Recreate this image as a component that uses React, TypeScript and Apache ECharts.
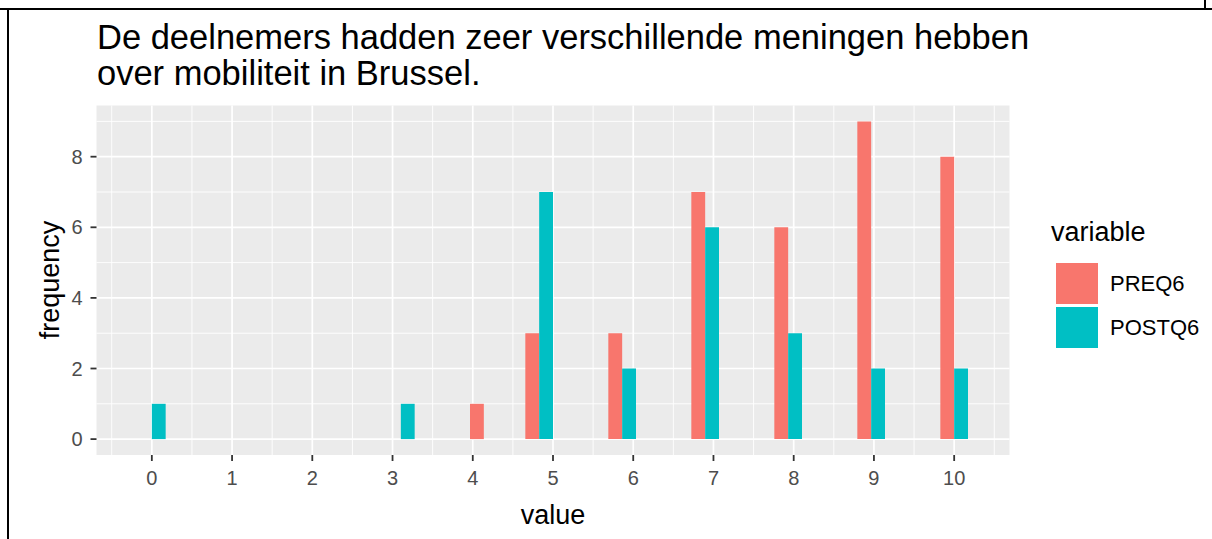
import React, { useEffect, useRef } from "react";
import * as echarts from "echarts";

// ---- data ----
const scoreValues = [0, 1, 2, 3, 4, 5, 6, 7, 8, 9, 10];
const preQ6Counts = [0, 0, 0, 0, 1, 3, 3, 7, 6, 9, 8];
const postQ6Counts = [1, 0, 0, 1, 0, 7, 2, 6, 3, 2, 2];
const seriesNames = ["PREQ6", "POSTQ6"];
const xTickValues = [0, 1, 2, 3, 4, 5, 6, 7, 8, 9, 10];
const yTickValues = [0, 2, 4, 6, 8];
const titleLines = ["De deelnemers hadden zeer verschillende meningen hebben", "over mobiliteit in Brussel."];
const xTitle = "value";
const yTitle = "frequency";
const legendTitle = "variable";

// ---- ggplot-like histogram binning (30 bins, right closed), dodged ----
const BINS = 30;
const dataMin = Math.min(...scoreValues);
const dataMax = Math.max(...scoreValues);
const binWidth = (dataMax - dataMin) / (BINS - 1);
const binCenter = (v: number) => dataMin + Math.ceil((v - dataMin) / binWidth - 0.5 - 1e-9) * binWidth;

function dodgedBars(counts: number[], group: number) {
  const out: number[][] = [];
  scoreValues.forEach((v, i) => {
    if (!counts[i]) return;
    const c = binCenter(v);
    const x0 = c - binWidth / 2 + group * (binWidth / 2);
    out.push([x0, x0 + binWidth / 2, counts[i]]);
  });
  return out;
}

const xExpand = (dataMax - dataMin + binWidth) * 0.05;
const xMin = dataMin - binWidth / 2 - xExpand;
const xMax = dataMax + binWidth / 2 + xExpand;
const yTop = Math.max(...preQ6Counts, ...postQ6Counts);
const yMin = -yTop * 0.05;
const yMax = yTop * 1.05;

const COLORS = ["#F8766D", "#00BFC4"];
const FONT = "'Liberation Sans', Arial, sans-serif";
const TICK_COLOR = "#333333";
const TICK_LEN = 6;
const TICK_W = 1.8;

export default function App() {
  const ref = useRef<HTMLDivElement>(null);
  useEffect(() => {
    if (!ref.current) return;
    const chart = echarts.init(ref.current, undefined, { renderer: "svg" });

    const vLines: number[][] = [];
    for (let x = Math.ceil(xMin * 2) / 2; x <= xMax; x += 0.5) vLines.push([x, 0, Number.isInteger(x) ? 1 : 0]);
    const hLines: number[][] = [];
    for (let y = Math.ceil(yMin); y <= yMax; y += 1) hLines.push([0, y, y % 2 === 0 ? 1 : 0]);

    const barRender = (params: any, api: any) => {
      const x0 = api.value(0), x1 = api.value(1), v = api.value(2);
      const p0 = api.coord([x0, v]);
      const p1 = api.coord([x1, 0]);
      return {
        type: "rect",
        shape: { x: p0[0], y: p0[1], width: p1[0] - p0[0], height: p1[1] - p0[1] },
        style: { fill: api.visual("color") },
      };
    };

    chart.setOption({
      animation: false,
      grid: {
        left: 96.5, top: 105.5, width: 913, height: 349.5,
        show: true, backgroundColor: "#EBEBEB", borderWidth: 0,
        outerBoundsMode: "none",
      },
      xAxis: {
        type: "value", min: xMin, max: xMax,
        axisLine: { show: false, onZero: false },
        splitLine: { show: false },
        axisTick: { show: false },
        axisLabel: { customValues: xTickValues, fontSize: 20, color: "#4D4D4D", margin: 13, fontFamily: FONT },
      },
      yAxis: {
        type: "value", min: yMin, max: yMax,
        axisLine: { show: false, onZero: false },
        splitLine: { show: false },
        axisTick: { show: false },
        axisLabel: { customValues: yTickValues, fontSize: 20, color: "#4D4D4D", margin: 14, fontFamily: FONT },
      },
      legend: {
        data: seriesNames,
        orient: "vertical",
        left: 1051, top: 258,
        itemWidth: 42, itemHeight: 41, itemGap: 3,
        icon: "rect",
        selectedMode: false,
        textStyle: { fontSize: 22, color: "#000", fontFamily: FONT, padding: [0, 0, 0, 7] },
      },
      series: [
        {
          type: "custom", name: "vgrid", silent: true, z: 1,
          encode: { x: 0, y: 1 },
          data: vLines,
          renderItem: (params: any, api: any) => {
            const cs = params.coordSys;
            const p = api.coord([api.value(0), 0]);
            return {
              type: "line",
              shape: { x1: p[0], y1: cs.y, x2: p[0], y2: cs.y + cs.height },
              style: { stroke: "#FFFFFF", lineWidth: api.value(2) ? 1.7 : 0.9 },
            };
          },
        },
        {
          type: "custom", name: "hgrid", silent: true, z: 1,
          encode: { x: 0, y: 1 },
          data: hLines,
          renderItem: (params: any, api: any) => {
            const cs = params.coordSys;
            const p = api.coord([0, api.value(1)]);
            return {
              type: "line",
              shape: { x1: cs.x, y1: p[1], x2: cs.x + cs.width, y2: p[1] },
              style: { stroke: "#FFFFFF", lineWidth: api.value(2) ? 1.7 : 0.9 },
            };
          },
        },
        {
          type: "custom", name: "xticks", silent: true, z: 4, clip: false,
          encode: { x: 0, y: 1 },
          data: xTickValues.map((v) => [v, 0]),
          renderItem: (params: any, api: any) => {
            const cs = params.coordSys;
            const p = api.coord([api.value(0), 0]);
            const yb = cs.y + cs.height;
            return {
              type: "rect",
              shape: { x: p[0] - TICK_W / 2, y: yb, width: TICK_W, height: TICK_LEN },
              style: { fill: TICK_COLOR },
            };
          },
        },
        {
          type: "custom", name: "yticks", silent: true, z: 4, clip: false,
          encode: { x: 0, y: 1 },
          data: yTickValues.map((v) => [0, v]),
          renderItem: (params: any, api: any) => {
            const cs = params.coordSys;
            const p = api.coord([0, api.value(1)]);
            return {
              type: "rect",
              shape: { x: cs.x - TICK_LEN, y: p[1] - TICK_W / 2, width: TICK_LEN, height: TICK_W },
              style: { fill: TICK_COLOR },
            };
          },
        },
        {
          type: "custom", name: seriesNames[0], z: 3,
          itemStyle: { color: COLORS[0] },
          encode: { x: [0, 1], y: 2 },
          data: dodgedBars(preQ6Counts, 0),
          renderItem: barRender,
        },
        {
          type: "custom", name: seriesNames[1], z: 3,
          itemStyle: { color: COLORS[1] },
          encode: { x: [0, 1], y: 2 },
          data: dodgedBars(postQ6Counts, 1),
          renderItem: barRender,
        },
      ],
      graphic: [
        {
          type: "text", x: 97, y: 37,
          style: { text: titleLines[0], fontSize: 34.5, fill: "#000", fontFamily: FONT, verticalAlign: "middle" },
        },
        {
          type: "text", x: 97, y: 73,
          style: { text: titleLines[1], fontSize: 34.5, fill: "#000", fontFamily: FONT, verticalAlign: "middle" },
        },
        {
          type: "text", x: 553, y: 515,
          style: { text: xTitle, fontSize: 27, fill: "#000", fontFamily: FONT, align: "center", verticalAlign: "middle" },
        },
        {
          type: "text", x: 50, y: 280, rotation: Math.PI / 2,
          style: { text: yTitle, fontSize: 27, fill: "#000", fontFamily: FONT, align: "center", verticalAlign: "middle" },
        },
        {
          type: "text", x: 1051, y: 232,
          style: { text: legendTitle, fontSize: 27, fill: "#000", fontFamily: FONT, align: "left", verticalAlign: "middle" },
        },
        { type: "line", shape: { x1: 0, y1: 9, x2: 1212, y2: 9 }, style: { stroke: "#000", lineWidth: 2 } },
        { type: "line", shape: { x1: 8, y1: 9, x2: 8, y2: 539 }, style: { stroke: "#000", lineWidth: 2 } },
        { type: "line", shape: { x1: 1205, y1: 0, x2: 1205, y2: 9 }, style: { stroke: "#000", lineWidth: 2 } },
      ],
    });
    return () => chart.dispose();
  }, []);

  return (
    <div
      ref={ref}
      style={{ position: "fixed", left: 0, top: 0, width: 1212, height: 539, background: "#fff" }}
    />
  );
}
